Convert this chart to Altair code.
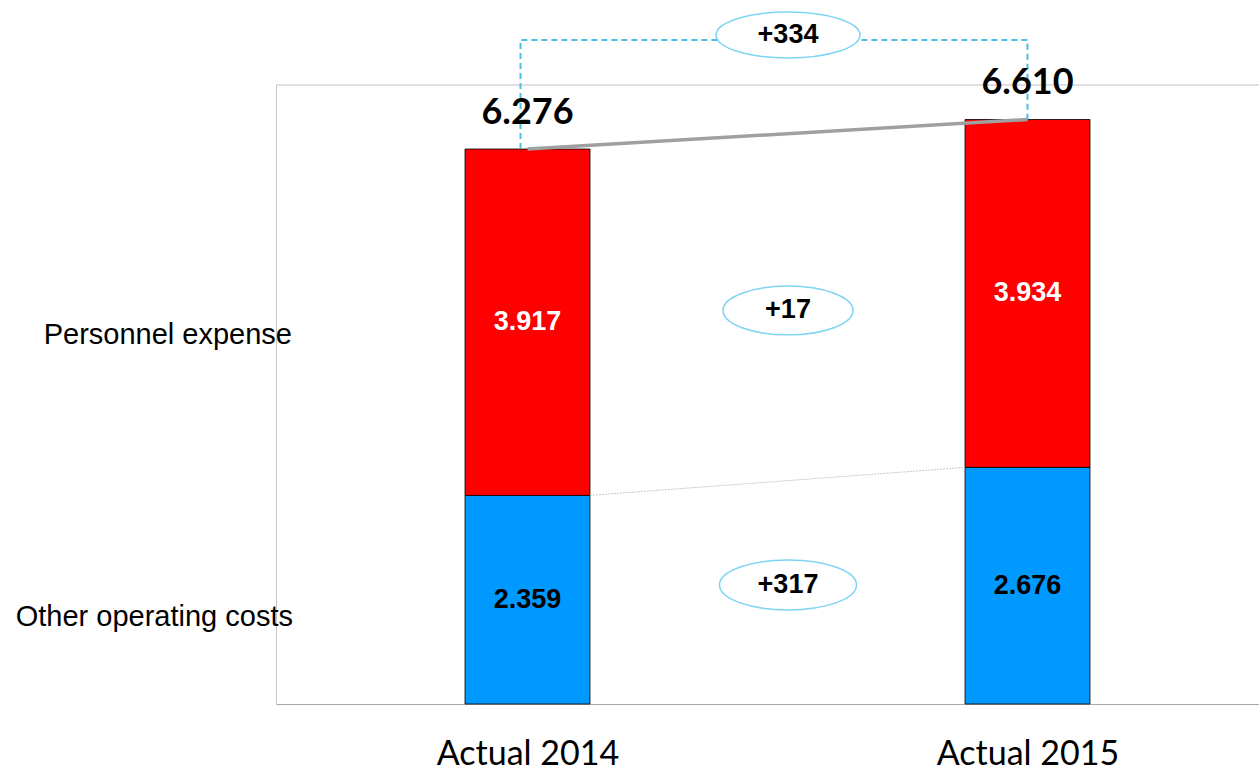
import altair as alt
import pandas as pd

# ---- data ----
categories = ["Actual 2014", "Actual 2015"]
cat_pos = [0, 1]
other_costs = [2359, 2676]
personnel = [3917, 3934]
totals = [6276, 6610]
row_labels = ["Personnel expense", "Other operating costs"]
row_label_y = [4173, 984]

# annotation positions (data units)
delta_x = 0.521
delta_y = [7565, 4450, 1346]          # total, personnel, other
delta_width = [144, 130, 137]
delta_ratio = [0.32, 0.375, 0.365]
bracket_y = 7510

W, H = 983, 619
x_dom = [-0.503, 1.463]
y_dom = [0, 7000]
half_bar = 0.125


def fmt(v):
    return f"{v:,}".replace(",", ".")


def X(field="x"):
    return alt.X(f"{field}:Q", scale=alt.Scale(domain=x_dom, nice=False, zero=False),
                 axis=alt.Axis(values=cat_pos, title=None, ticks=False, grid=False,
                               labelExpr=f"datum.value == 0 ? '{categories[0]}' : '{categories[1]}'",
                               labelFont="Lato", labelFontSize=34, labelColor="black",
                               labelPadding=33, labelLimit=0, domainColor="#a8a8a8",
                               labelOverlap=False))


def Y(field="y"):
    return alt.Y(f"{field}:Q", scale=alt.Scale(domain=y_dom, nice=False),
                 axis=alt.Axis(title=None, labels=False, ticks=False, grid=False,
                               domainColor="#c8c8c8"))


bars = []
for i, c in enumerate(categories):
    bars.append(dict(x=cat_pos[i] - half_bar, x2=cat_pos[i] + half_bar, y=0,
                     y2=other_costs[i], color="#0099FF", label=fmt(other_costs[i]),
                     tcolor="black", ym=other_costs[i] / 2))
    bars.append(dict(x=cat_pos[i] - half_bar, x2=cat_pos[i] + half_bar, y=other_costs[i],
                     y2=totals[i], color="#FF0000", label=fmt(personnel[i]),
                     tcolor="white", ym=other_costs[i] + personnel[i] / 2))
bars_df = pd.DataFrame(bars)

bar_layer = alt.Chart(bars_df).mark_bar(stroke="black", strokeWidth=0.8).encode(
    x=X(), x2="x2:Q", y=Y(), y2="y2:Q", color=alt.Color("color:N", scale=None))

bar_text = alt.Chart(bars_df).mark_text(font="Liberation Sans", fontWeight="bold",
                                        fontSize=27, baseline="middle").encode(
    x=alt.X("xc:Q"), y=alt.Y("ym:Q"), text="label:N",
    color=alt.Color("tcolor:N", scale=None)).transform_calculate(xc="(datum.x + datum.x2) / 2")

tot_df = pd.DataFrame(dict(x=cat_pos, y=totals, label=[fmt(t) for t in totals]))
tot_text = alt.Chart(tot_df).mark_text(font="Lato", fontWeight="bold", fontSize=36,
                                       baseline="alphabetic", dy=-25, color="black").encode(
    x="x:Q", y="y:Q", text="label:N")

# connectors
thin_df = pd.DataFrame(dict(x=[cat_pos[0] + half_bar, cat_pos[1] - half_bar], y=other_costs))
thin_line = alt.Chart(thin_df).mark_line(color="#c8c8c8", strokeWidth=1, strokeDash=[2, 1]).encode(
    x="x:Q", y="y:Q")

thick_df = pd.DataFrame(dict(x=cat_pos, y=totals))
thick_line = alt.Chart(thick_df).mark_line(color="#a0a0a0", strokeWidth=3.5).encode(x="x:Q", y="y:Q")

br_df = pd.DataFrame(dict(x=[cat_pos[0] - 0.014, cat_pos[0] - 0.014, cat_pos[1], cat_pos[1]],
                          y=[totals[0], bracket_y, bracket_y, totals[1]], o=[0, 1, 2, 3]))
bracket = alt.Chart(br_df).mark_line(color="#4dbde6", strokeWidth=2, strokeDash=[6, 4]).encode(
    x="x:Q", y="y:Q", order="o:Q")


def ellipse(k):
    c = 0.5523
    return (f"M-1,0 C-1,{-c*k:.4f} {-c:.4f},{-k} 0,{-k} C{c:.4f},{-k} 1,{-c*k:.4f} 1,0 "
            f"C1,{c*k:.4f} {c:.4f},{k} 0,{k} C{-c:.4f},{k} -1,{c*k:.4f} -1,0 Z")


deltas = [totals[1] - totals[0], personnel[1] - personnel[0], other_costs[1] - other_costs[0]]
d_df = pd.DataFrame(dict(x=[delta_x] * 3, y=delta_y, label=[f"+{d}" for d in deltas],
                         size=[w * w for w in delta_width],
                         shape=[ellipse(k) for k in delta_ratio]))
ell = alt.Chart(d_df).mark_point(filled=True, fill="white", stroke="#7fd3f3", strokeWidth=1.5,
                                 opacity=1).encode(
    x="x:Q", y="y:Q", size=alt.Size("size:Q", scale=None),
    shape=alt.Shape("shape:N", scale=None))
d_text = alt.Chart(d_df).mark_text(font="Liberation Sans", fontWeight="bold", fontSize=27,
                                   baseline="middle", color="black").encode(
    x="x:Q", y="y:Q", text="label:N")

rl_df = pd.DataFrame(dict(x=[-0.471, -0.469], y=row_label_y, label=row_labels))
row_text = alt.Chart(rl_df).mark_text(font="Liberation Sans", fontSize=29, align="right",
                                      baseline="middle", color="black").encode(
    x="x:Q", y="y:Q", text="label:N")

top_line = alt.Chart(pd.DataFrame({"a": [0]})).mark_rule(color="#c0c0c0", strokeWidth=1).encode(
    x=alt.value(0), x2=alt.value(W), y=alt.value(0))

chart = alt.layer(top_line, bar_layer, thin_line, thick_line, bracket, ell, d_text,
                  bar_text, tot_text, row_text).properties(
    width=W, height=H,
    padding={"left": 276, "top": 85, "right": 0, "bottom": 68},
    autosize=alt.AutoSizeParams(type="none"),
    background="white",
).configure_view(stroke=None)

chart.save("out.html", embed_options={"renderer": "svg", "actions": False})
